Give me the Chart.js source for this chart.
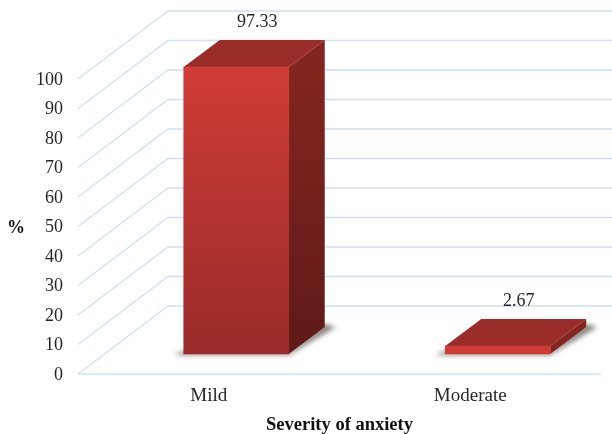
<!DOCTYPE html>
<html>
<head>
<meta charset="utf-8">
<title>Severity of anxiety</title>
<script src="https://cdn.jsdelivr.net/npm/chart.js@4/dist/chart.umd.min.js"></script>
<style>
    html, body { margin: 0; padding: 0; background: #fff; }
    canvas { display: block; }
</style>
</head>
<body>
<canvas id="myChart" width="612" height="434"></canvas>
<script>
var categories = ["Mild", "Moderate"];
var percentValues = [97.33, 2.67];
var valueLabels = ["97.33", "2.67"];
var yMin = 0;
var yMax = 100;
var yStep = 10;
var xTitle = "Severity of anxiety";
var yTitle = "%";

var serif = "'Liberation Serif', 'Times New Roman', serif";
var gridColor = "#cfe0f5";
var wallDx = 90, wallDy = 68;      // floor depth, front edge to back wall
var barDx = 36, barDy = 27;        // depth of one box
var barInsetX = 27.5, barInsetY = 20; // boxes stand a little behind the front edge
var pxPerUnit = 2.95, pxPerBand = 261.5;
var barFloorY = 354;               // pixel row the boxes stand on
var shadeSpan = 288;               // every box shades over the same height

// bars live on hidden scales, shifted into the floor
var yShift = barInsetY / pxPerUnit;
var xShift = barInsetX / pxPerBand;

var points = [];
for (var i = 0; i < categories.length; i++) {
    points.push({ x: i, y: percentValues[i] });
}

function frontGradient(context) {
    var value = percentValues[context.dataIndex || 0];
    var top = barFloorY - value * pxPerUnit;
    var g = context.chart.ctx.createLinearGradient(0, top, 0, top + shadeSpan);
    g.addColorStop(0, "#d03c38");
    g.addColorStop(1, "#992b2a");
    return g;
}

function poly(ctx, pts) {
    ctx.beginPath();
    ctx.moveTo(pts[0][0], pts[0][1]);
    for (var i = 1; i < pts.length; i++) ctx.lineTo(pts[i][0], pts[i][1]);
    ctx.closePath();
}

var depthPlugin = {
    id: "depth",
    beforeDatasetsDraw: function (chart) {
        var ctx = chart.ctx;
        var y = chart.scales.y;
        var area = chart.chartArea;

        // slanted grid: side wall then back wall
        ctx.save();
        ctx.strokeStyle = gridColor;
        ctx.lineWidth = 1.3;
        y.ticks.forEach(function (t) {
            var py = y.getPixelForValue(t.value);
            ctx.beginPath();
            ctx.moveTo(area.left, py);
            ctx.lineTo(area.left + wallDx, py - wallDy);
            ctx.lineTo(612, py - wallDy);
            ctx.stroke();
        });
        ctx.beginPath();
        ctx.moveTo(area.left, area.bottom);
        ctx.lineTo(area.right, area.bottom);
        ctx.stroke();
        ctx.restore();

        var bars = chart.getDatasetMeta(0).data;
        bars.forEach(function (bar) {
            var l = bar.x - bar.width / 2, r = bar.x + bar.width / 2;
            var top = bar.y, base = bar.base;

            // soft floor shadow
            ctx.save();
            ctx.filter = "blur(2.5px)";
            ctx.fillStyle = "#85827d";
            poly(ctx, [[l - 10, base + 1], [r, base + 1], [r + barDx + 11, base - barDy], [r + barDx, base - barDy - 3], [r, base - 3], [l, base - 3]]);
            ctx.fill();
            ctx.restore();

            // top face
            ctx.fillStyle = "#9a2c29";
            poly(ctx, [[l, top], [r, top], [r + barDx, top - barDy], [l + barDx, top - barDy]]);
            ctx.fill();

            // side face
            var side = ctx.createLinearGradient(0, top, 0, top + shadeSpan);
            side.addColorStop(0, "#84251f");
            side.addColorStop(1, "#5e1a17");
            ctx.fillStyle = side;
            poly(ctx, [[r, top], [r + barDx, top - barDy], [r + barDx, base - barDy], [r, base]]);
            ctx.fill();
        });
    },
    afterDatasetsDraw: function (chart) {
        var ctx = chart.ctx;
        ctx.save();
        ctx.fillStyle = "#262626";
        ctx.font = "18px " + serif;
        ctx.textAlign = "center";
        ctx.textBaseline = "middle";
        chart.getDatasetMeta(0).data.forEach(function (bar, i) {
            ctx.fillText(valueLabels[i], bar.x + 21, bar.y - 45);
        });
        ctx.fillStyle = "#111";
        ctx.font = "bold 18px " + serif;
        ctx.fillText(yTitle, 16, 228);
        ctx.restore();
    }
};

var ctx = document.getElementById("myChart").getContext("2d");
window.barChart = new Chart(ctx, {
    type: "bar",
    data: {
        labels: categories,
        datasets: [{
            data: points,
            xAxisID: "xBar",
            yAxisID: "yBar",
            backgroundColor: frontGradient,
            borderWidth: 0,
            barThickness: 105,
            clip: false
        }]
    },
    options: {
        responsive: false,
        animation: false,
        layout: { padding: { top: 79, right: 11 } },
        plugins: {
            legend: { display: false },
            tooltip: { enabled: false }
        },
        scales: {
            x: {
                type: "category",
                offset: true,
                grid: { display: false, drawTicks: false },
                border: { display: false },
                ticks: { color: "#262626", padding: 11, maxRotation: 0, font: { family: serif, size: 19 } },
                title: { display: true, text: xTitle, color: "#111", padding: 0, font: { family: serif, size: 18.5, weight: "bold", lineHeight: 1 } },
                afterFit: function (s) { s.height = 60; }
            },
            y: {
                min: yMin,
                max: yMax,
                grid: { display: false, drawTicks: false },
                border: { display: false },
                ticks: { stepSize: yStep, color: "#262626", padding: 15, labelOffset: 1, font: { family: serif, size: 18 } },
                afterFit: function (s) { s.width = 78; }
            },
            xBar: {
                type: "linear",
                display: false,
                offset: false,
                min: -0.5 - xShift,
                max: categories.length - 0.5 - xShift
            },
            yBar: {
                display: false,
                min: yMin - yShift,
                max: yMax - yShift
            }
        }
    },
    plugins: [depthPlugin]
});
</script>
</body>
</html>
